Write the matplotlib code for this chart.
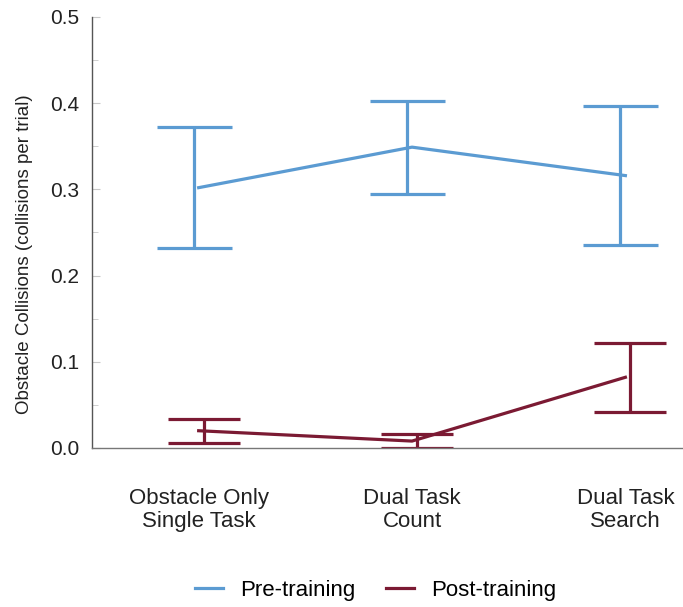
import matplotlib.pyplot as plt
import numpy as np

plt.rcParams['font.family'] = ['Liberation Sans', 'DejaVu Sans']

conditions = ['Obstacle Only\nSingle Task', 'Dual Task\nCount', 'Dual Task\nSearch']
pre_mean = [0.302, 0.349, 0.316]
pre_err = [0.070, 0.054, 0.081]
post_mean = [0.020, 0.008, 0.082]
post_err = [0.014, 0.008, 0.040]

pre_color = '#5b9bd2'
post_color = '#7b1a33'

x = np.arange(len(conditions))
dodge = 0.023

fig = plt.figure(figsize=(6.83, 6.07), dpi=100)
ax = fig.add_axes([0.1347, 0.262, 0.8653, 0.71])

ax.plot(x, pre_mean, color=pre_color, lw=2.3, label='Pre-training')
ax.plot(x, post_mean, color=post_color, lw=2.3, label='Post-training')
ax.errorbar(x - dodge, pre_mean, yerr=pre_err, fmt='none', ecolor=pre_color,
            elinewidth=2.3, capsize=27, capthick=2.3)
ax.errorbar(x + dodge, post_mean, yerr=post_err, fmt='none', ecolor=post_color,
            elinewidth=2.3, capsize=26, capthick=2.3)

ax.set_xlim(-0.5, 2.27)
ax.set_ylim(0, 0.5)
ax.set_yticks(np.arange(0, 0.51, 0.1))
ax.set_yticks(np.arange(0.05, 0.5, 0.1), minor=True)
ax.set_yticklabels(['%.1f' % v for v in np.arange(0, 0.51, 0.1)])
ax.set_xticks(x)
ax.set_xticklabels(conditions, fontsize=16, color='#222222', linespacing=1.1)
ax.tick_params(axis='x', length=0, pad=29)
ax.tick_params(axis='y', which='major', direction='in', length=6, color='#c8c8c8',
               labelsize=15, labelcolor='#222222', pad=9)
ax.tick_params(axis='y', which='minor', direction='in', length=4, color='#c8c8c8')

for s in ['top', 'right']:
    ax.spines[s].set_visible(False)
ax.spines['left'].set_color('#555555')
ax.spines['bottom'].set_color('#777777')
ax.spines['left'].set_linewidth(1.0)
ax.spines['bottom'].set_linewidth(1.0)

ax.set_ylabel('Obstacle Collisions (collisions per trial)', fontsize=13.5, color='#222222')
ax.yaxis.set_label_coords(-0.10, 0.45)

fig.legend(loc='center', bbox_to_anchor=(0.55, 0.028), ncol=2, frameon=False,
           fontsize=16, handlelength=1.26, columnspacing=1.35, handletextpad=0.77)

plt.savefig('out.png', dpi=100)
